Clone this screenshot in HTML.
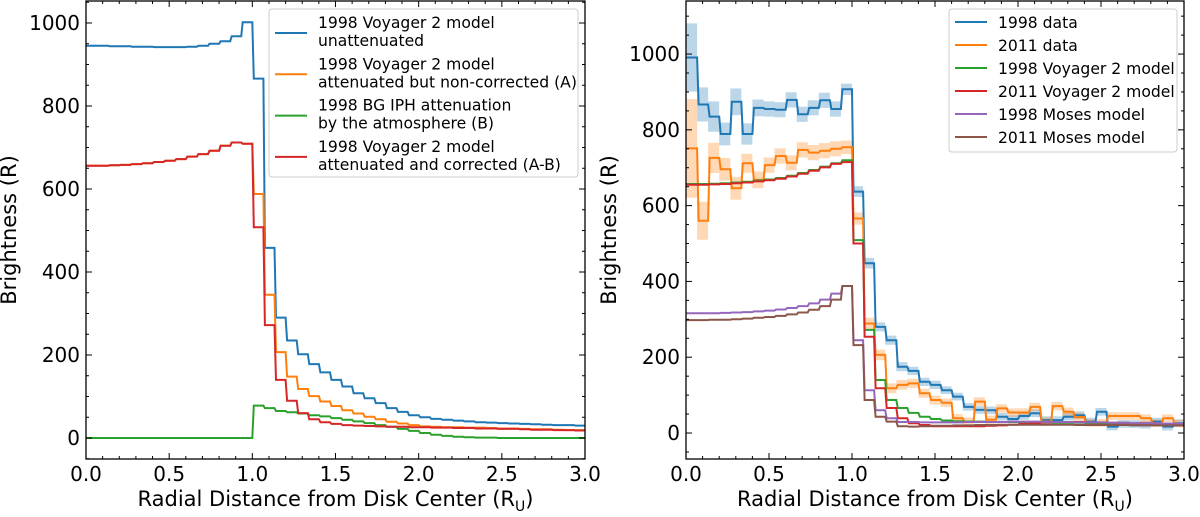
<!DOCTYPE html>
<html><head><meta charset="utf-8"><style>
body{margin:0;background:#fff;}
svg text{font-family:"DejaVu Sans","Liberation Sans",sans-serif;fill:#000;}
</style></head><body>
<svg id="fig" width="1200" height="512" viewBox="0 0 1200 512" xmlns="http://www.w3.org/2000/svg"></svg>
<script>
// ---- data (bins of width 1/15 from 0 to 3) ----
const binWidth = 1/15;
// Left panel
const leftUnatt = [945,945,944,944,943,943,942,942,942,943,945,950,956,968,1002,866,458,290,235,202,178,158,140,124,108,96,84,72,63,55,50,46,44,42,40,38,37,36,35,34,33,32,31,31,30];
const leftAttA = [656,656,657,658,660,662,665,668,672,678,684,692,704,712,709,588,345,207,148,118,101,88,77,67,59,51,45,39,35,31,28,27,26,26,25,25,24,23,23,22,21,21,20,19,19];
const leftIphB = [0,0,0,0,0,0,0,0,0,0,0,0,0,0,0,78,72,65,62,59,55,52,48,44,40,36,31,27,22,17,12,8,5,3,2,1,1,0,0,0,0,0,0,0,0];
const leftCorr = [656,656,657,658,660,662,665,668,672,678,684,692,704,712,709,508,272,140,90,60,45,38,34,31,30,29,28,27,27,26,26,25,25,24,24,23,23,22,22,21,20,20,19,19,18];
// Right panel
const data1998 = [991,867,835,789,874,789,858,855,853,879,841,858,878,855,907,637,448,280,245,175,164,135,127,113,96,69,61,60,43,37,45,52,34,34,43,47,30,56,17,24,24,22,30,17,26];
const err1998 = [90,45,40,30,35,28,22,20,20,20,20,20,20,20,15,14,14,12,12,12,11,11,11,10,10,10,10,10,10,10,10,10,10,10,10,10,10,10,10,10,10,10,10,10,10];
const data2011 = [751,560,726,696,646,712,668,707,731,713,747,740,745,750,754,566,289,206,118,127,131,105,87,80,39,30,83,35,65,54,54,69,30,71,56,42,27,27,45,45,45,39,26,39,25];
const err2011 = [130,50,40,30,30,25,22,20,20,20,20,20,20,20,18,16,15,14,13,13,12,12,12,11,11,11,11,11,11,11,11,11,11,11,11,11,10,10,10,10,10,10,10,10,10];
const voy1998 = [657,657,658,659,661,663,666,669,673,679,686,694,703,712,720,509,272,140,87,66,53,43,37,33,31,30,30,29,29,29,28,28,28,27,27,27,26,26,26,25,25,25,25,24,24];
const voy2011 = [655,655,656,657,659,661,664,667,671,677,684,692,701,710,715,500,254,118,66,39,26,21,18,18,18,18,18,19,20,22,24,26,28,29,29,29,28,28,27,27,26,26,25,25,25];
const moses1998 = [316,316,316,317,318,319,321,323,326,330,335,342,352,368,388,245,113,60,39,29,29,28,28,28,28,29,29,29,29,30,30,30,29,29,29,28,28,28,27,27,26,26,25,25,25];
const moses2011 = [298,298,299,299,300,302,304,306,309,313,318,325,335,352,388,232,87,43,30,18,17,18,19,19,20,20,21,21,22,22,22,22,22,22,22,21,21,21,21,21,20,20,20,20,20];
const xTicks = [0,0.5,1,1.5,2,2.5,3];
const xTickLabels = ["0.0","0.5","1.0","1.5","2.0","2.5","3.0"];
const leftYTicks = [0,200,400,600,800,1000];
const rightYTicks = [0,200,400,600,800,1000];

const svg = document.getElementById('fig');
const NS = 'http://www.w3.org/2000/svg';
function mk(tag, attrs, parent){const e=document.createElementNS(NS,tag);for(const k in attrs)e.setAttribute(k,attrs[k]);(parent||svg).appendChild(e);return e;}

function makeAxes(box, ylim, name){
  const g = mk('g',{});
  
  
  const X = v => box.x0 + (v-0)/(3-0)*(box.x1-box.x0);
  const Y = v => box.y1 - (v-ylim[0])/(ylim[1]-ylim[0])*(box.y1-box.y0);
  return {g,X,Y,box,ylim};
}
function stepPath(ax, vals){
  let d='';
  vals.forEach((v,i)=>{const xa=ax.X(i*binWidth)+(i>0?1.5:0), xb=ax.X((i+1)*binWidth), y=ax.Y(v);
    d += (i===0?'M':'L')+xa.toFixed(1)+','+y.toFixed(1)+'L'+xb.toFixed(1)+','+y.toFixed(1);});
  return d;
}
function drawLine(ax, vals, color, name){
  const p = mk('path',{d:stepPath(ax,vals),fill:'none',stroke:color,'stroke-width':2,'stroke-linejoin':'miter'},ax.g);
  
  
}
function drawBand(ax, vals, errs, color, name){
  const up = vals.map((v,i)=>v+errs[i]), lo = vals.map((v,i)=>v-errs[i]);
  let d='';
  up.forEach((v,i)=>{d+=(i===0?'M':'L')+ax.X(i*binWidth).toFixed(1)+','+ax.Y(v).toFixed(1)+'L'+ax.X((i+1)*binWidth).toFixed(1)+','+ax.Y(v).toFixed(1);});
  for(let i=lo.length-1;i>=0;i--){d+='L'+ax.X((i+1)*binWidth).toFixed(1)+','+ax.Y(lo[i]).toFixed(1)+'L'+ax.X(i*binWidth).toFixed(1)+','+ax.Y(lo[i]).toFixed(1);}
  d+='Z';
  const p = mk('path',{d:d,fill:color,'fill-opacity':0.3,stroke:'none'},ax.g);
  
  
}
function drawFrame(ax, yTicks){
  const b=ax.box;
  const fr = mk('rect',{x:b.x0,y:b.y0,width:b.x1-b.x0,height:b.y1-b.y0,fill:'none',stroke:'#000','stroke-width':1.3},ax.g);
  
  
  for(let k=0;k<=30;k++){const v=k/10, x=ax.X(v), major=(k%5===0), L=major?6:3;
    mk('line',{x1:x,y1:b.y1,x2:x,y2:b.y1-L,stroke:'#000','stroke-width':1},ax.g);
    mk('line',{x1:x,y1:b.y0,x2:x,y2:b.y0+L,stroke:'#000','stroke-width':1},ax.g);}
  xTicks.forEach((v,i)=>{const t=mk('text',{x:ax.X(v),y:b.y1+22,'text-anchor':'middle','font-size':20},ax.g);t.textContent=xTickLabels[i];
    
    });
  for(let v=Math.ceil(ax.ylim[0]/50)*50; v<=ax.ylim[1]; v+=50){const y=ax.Y(v), major=(v%200===0), L=major?6:3;
    mk('line',{x1:b.x0,y1:y,x2:b.x0+L,y2:y,stroke:'#000','stroke-width':1},ax.g);
    mk('line',{x1:b.x1,y1:y,x2:b.x1-L,y2:y,stroke:'#000','stroke-width':1},ax.g);}
  yTicks.forEach(v=>{const t=mk('text',{x:b.x0-6,y:ax.Y(v)+7,'text-anchor':'end','font-size':20},ax.g);t.textContent=String(v);
    
    });
  const yl=mk('text',{x:0,y:0,'text-anchor':'middle','font-size':21,transform:`translate(${b.x0-70},${(b.y0+b.y1)/2}) rotate(-90)`},ax.g);
  yl.textContent='Brightness (R)';
  
  
  const xl=mk('text',{x:(b.x0+b.x1)/2,y:b.y1+47,'text-anchor':'middle','font-size':21},ax.g);
  xl.innerHTML='Radial Distance from Disk Center (R<tspan font-size="14" dy="5">U</tspan><tspan dy="-5">)</tspan>';
  
  
}
function legend(ax, x,y,w,h, entries, rowH, firstY, name){
  const g=mk('g',{},ax.g);
  
  
  mk('rect',{x:x,y:y,width:w,height:h,rx:3,fill:'#fff','fill-opacity':0.85,stroke:'#ccc','stroke-width':1},g);
  entries.forEach((e,i)=>{const cy=firstY+i*rowH;
    const ln=mk('line',{x1:x+6,x2:x+38,y1:cy,y2:cy,stroke:e.c,'stroke-width':2},g);
    
    
    e.t.forEach((s,j)=>{const t=mk('text',{x:x+49,y:cy+(e.t.length>1?(j===0?-5:13):6),'font-size':15.6},g);t.textContent=s;
      
      });
  });
}

const C=['#1f77b4','#ff7f0e','#2ca02c','#d62728','#9467bd','#8c564b'];
const L = makeAxes({x0:86,x1:585,y0:1,y1:459},[-50.6,1053],'left-chart');
drawLine(L,leftUnatt,C[0],'line-unattenuated');
drawLine(L,leftAttA,C[1],'line-attenuated-A');
drawLine(L,leftIphB,C[2],'line-iph-attenuation-B');
drawLine(L,leftCorr,C[3],'line-corrected-A-B');
drawFrame(L,leftYTicks);
legend(L,269,9,309,168,[
 {c:C[0],t:['1998 Voyager 2 model','unattenuated']},
 {c:C[1],t:['1998 Voyager 2 model','attenuated but non-corrected (A)']},
 {c:C[2],t:['1998 BG IPH attenuation','by the atmosphere (B)']},
 {c:C[3],t:['1998 Voyager 2 model','attenuated and corrected (A-B)']}],41.3,33,'left-legend');
const R = makeAxes({x0:686,x1:1184,y0:1,y1:459},[-68.6,1140],'right-chart');
drawBand(R,data1998,err1998,C[0],'band-1998-data');
drawBand(R,data2011,err2011,C[1],'band-2011-data');
drawLine(R,data1998,C[0],'line-1998-data');
drawLine(R,data2011,C[1],'line-2011-data');
drawLine(R,voy1998,C[2],'line-1998-voyager-model');
drawLine(R,voy2011,C[3],'line-2011-voyager-model');
drawLine(R,moses1998,C[4],'line-1998-moses-model');
drawLine(R,moses2011,C[5],'line-2011-moses-model');
drawFrame(R,rightYTicks);
legend(R,949,9,228,143,[
 {c:C[0],t:['1998 data']},{c:C[1],t:['2011 data']},{c:C[2],t:['1998 Voyager 2 model']},
 {c:C[3],t:['2011 Voyager 2 model']},{c:C[4],t:['1998 Moses model']},{c:C[5],t:['2011 Moses model']}],23,22,'right-legend');
svg.appendChild(L.g); svg.appendChild(R.g);
</script>
</body></html>
